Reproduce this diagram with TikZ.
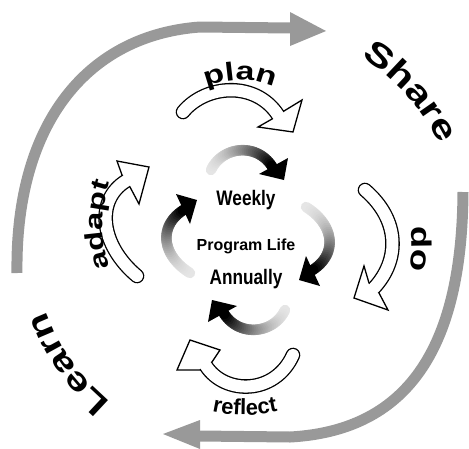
\documentclass[tikz,border=0pt]{standalone}
\usepackage{fontspec}
\setmainfont{Liberation Sans}
\newfontfamily\widesans[FakeStretch=1.3]{Liberation Sans}
\newfontfamily\narrowsans[FakeStretch=0.82]{Liberation Sans}
\usetikzlibrary{decorations.text}
\colorlet{bandgray}{black!40}
\tikzset{
  bigband/.style={draw=bandgray, line width=11pt, line cap=butt},
  bighead/.style={fill=bandgray},
  midtext/.style={inner sep=0pt, font=\bfseries},
}
% gradient arrow: tail, c1, c2, end, outer barb 1, tip, outer barb 2
\newcommand\gradarrow[7]{%
  \foreach \i in {0,...,35}{
    \pgfmathsetmacro\ta{\i/36}
    \pgfmathsetmacro\tb{min(1,(\i+1)/36)}
    \pgfmathsetmacro\cc{10+90*(\i/35)^1.6}
    \path #1 .. controls #2 and #3 .. #4 coordinate[pos=\ta] (ga) coordinate[pos=\tb] (gb);
    \draw[line width=10.5pt, line cap=round, black!\cc] (ga) -- (gb);
  }
  \fill[black] #5 -- #6 -- #7 -- cycle;
}
% hollow arrow: tail, c1, c2, end, inner barb 1, outer barb 1, tip, outer barb 2, inner barb 2
\newcommand\hollowarrow[9]{%
  \draw[line width=14.6pt, line cap=round] #1 .. controls #2 and #3 .. #4;
  \filldraw[fill=white, line width=1.3pt, line join=miter] #5 -- #6 -- #7 -- #8 -- #9 -- cycle;
  \draw[white, line width=12pt, line cap=round] #1 .. controls #2 and #3 .. #4;
}
\begin{document}
\begin{tikzpicture}[x=1pt,y=1pt]
\useasboundingbox (0,0) rectangle (469,-448);

% big gray arrows
\coordinate (tlA) at (17,-273);
\coordinate (tlB) at (200,-27);
\coordinate (tlC) at (291,-28);
\draw[bigband] (tlA) .. controls (15,-120) and (90,-35) .. (tlB) -- (tlC);
\fill[bighead] (290,-12) -- (326,-31) -- (290,-46) -- cycle;

\coordinate (brA) at (463,-192);
\coordinate (brB) at (290,-437);
\coordinate (brC) at (199,-436);
\draw[bigband] (brA) .. controls (462,-330) and (420,-430) .. (brB) -- (brC);
\fill[bighead] (200,-420) -- (163,-434) -- (200,-449) -- cycle;

% hollow arrows
\hollowarrow{(183,-112)}{(205,-85)}{(255,-80)}{(278,-115)}{(284,-111)}{(302,-100)}{(293,-132)}{(258,-127)}{(272,-119)}
\hollowarrow{(365,-190)}{(400,-220)}{(400,-260)}{(374,-288)}{(379,-293)}{(388,-310)}{(354,-298)}{(364,-266)}{(369,-283)}
\hollowarrow{(293,-355)}{(275,-395)}{(225,-395)}{(206,-366)}{(212,-362)}{(220,-350)}{(190,-340)}{(177,-370)}{(200,-370)}
\hollowarrow{(137,-276)}{(100,-245)}{(95,-200)}{(126,-181)}{(130,-187)}{(139,-204)}{(149,-167)}{(117,-161)}{(122,-175)}

% gradient arrows
\gradarrow{(211,-170)}{(222,-146)}{(258,-142)}{(273,-168)}{(259,-174)}{(284,-180)}{(288,-158)}
\gradarrow{(306,-207)}{(335,-225)}{(338,-255)}{(311,-271)}{(306,-256)}{(299,-280)}{(320,-286)}
\gradarrow{(285,-310)}{(274,-334)}{(238,-338)}{(223,-312)}{(237,-306)}{(212,-300)}{(208,-322)}
\gradarrow{(190,-273)}{(161,-255)}{(158,-225)}{(185,-209)}{(190,-224)}{(197,-200)}{(176,-194)}

% curved labels
\path[decorate, decoration={text along path, text align=center,
  text={|\widesans\bfseries\fontsize{33}{33}\selectfont|Share}}]
  ([shift={(67:217)}]245,-240) arc[start angle=67, end angle=17, radius=217];
\path[decorate, decoration={text along path, text align=center,
  text={|\widesans\bfseries\fontsize{32}{32}\selectfont|Learn}}]
  ([shift={(240:211)}]245,-240) arc[start angle=240, end angle=190, radius=211];
\path[decorate, decoration={text along path, text align=center,
  text={|\widesans\bfseries\fontsize{26}{26}\selectfont|plan}}]
  ([shift={(125:82)}]240,-162) arc[start angle=125, end angle=55, radius=82];
\path[decorate, decoration={text along path, text align=center,
  text={|\widesans\bfseries\fontsize{28}{28}\selectfont|do}}]
  ([shift={(15:167)}]245,-240) arc[start angle=15, end angle=-21, radius=167];
\path[decorate, decoration={text along path, text align=center,
  text={|\widesans\bfseries\fontsize{25}{25}\selectfont|adapt}}]
  ([shift={(210:137)}]240,-225) arc[start angle=210, end angle=150, radius=137];
\path[decorate, decoration={text along path, text align=center,
  text={|\bfseries\fontsize{22}{22}\selectfont|reflect}}]
  ([shift={(250:150)}]245,-265) arc[start angle=250, end angle=290, radius=150];

% centre labels
\node[midtext] (weekly) at (246,-200) {\narrowsans\bfseries\fontsize{21}{21}\selectfont Weekly};
\node[midtext] (life) at (246,-246) {\fontsize{16}{16}\selectfont Program Life};
\node[midtext] (annual) at (246,-279) {\narrowsans\bfseries\fontsize{21}{21}\selectfont Annually};
\end{tikzpicture}
\end{document}
